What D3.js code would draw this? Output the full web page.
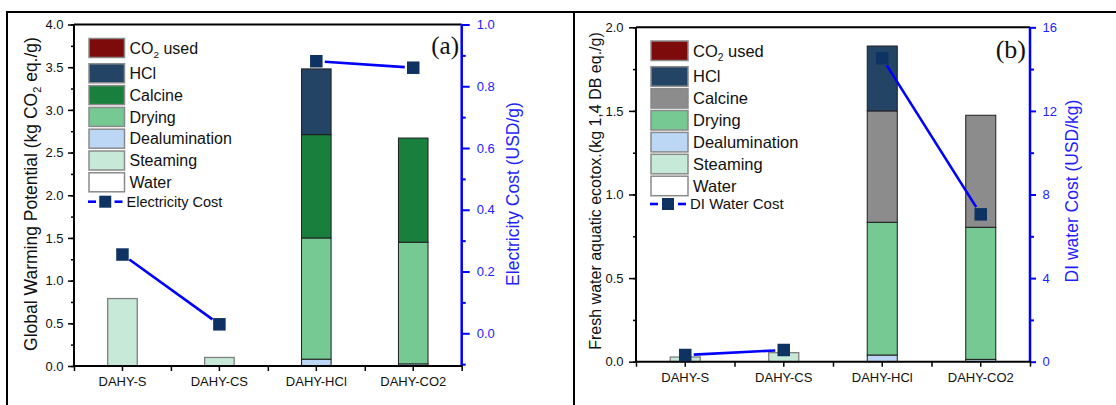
<!DOCTYPE html>
<html>
<head>
<meta charset="utf-8">
<script src="https://cdn.jsdelivr.net/npm/d3@7"></script>
<style>
  html, body { margin: 0; padding: 0; background: #fff; }
  svg { display: block; font-family: "Liberation Sans", Arial, sans-serif; }
</style>
</head>
<body>
<svg id="chart" width="1116" height="405"></svg>
<script>
// ---------------- DATA ----------------
const categories = ["DAHY-S", "DAHY-CS", "DAHY-HCl", "DAHY-CO2"];
const stages = ["Water", "Steaming", "Dealumination", "Drying", "Calcine", "HCl", "CO2 used"]; // bottom -> top

// Panel (a): Global Warming Potential (kg CO2 eq./g)
const gwpWater         = [0, 0, 0, 0];
const gwpSteaming      = [0.79, 0.10, 0, 0];
const gwpDealumination = [0, 0, 0.08, 0.025];
const gwpDrying        = [0, 0, 1.42, 1.425];
const gwpCalcine       = [0, 0, 1.21, 1.22];
const gwpHCl           = [0, 0, 0.77, 0];
const gwpCO2used       = [0, 0, 0, 0];
const electricityCost  = [0.255, 0.029, 0.881, 0.86]; // USD/g

// Panel (b): Fresh water aquatic ecotox. (kg 1,4 DB eq./g)
const ecoWater         = [0, 0, 0, 0];
const ecoSteaming      = [0.028, 0.054, 0, 0];
const ecoDealumination = [0, 0, 0.04, 0.014];
const ecoDrying        = [0, 0, 0.794, 0.79];
const ecoCalcine       = [0, 0, 0.666, 0.67];
const ecoHCl           = [0, 0, 0.388, 0];
const ecoCO2used       = [0, 0, 0, 0];
const diWaterCost      = [0.32, 0.56, 14.52, 7.05]; // USD/kg

// which consecutive points are joined by the cost line
const costSegments = [[0, 1], [2, 3]];

// tick values
const gwpTicks   = [0, 0.5, 1.0, 1.5, 2.0, 2.5, 3.0, 3.5, 4.0];
const elecTicks  = [0, 0.2, 0.4, 0.6, 0.8, 1.0];
const ecoTicks   = [0, 0.5, 1.0, 1.5, 2.0];
const waterTicks = [0, 4, 8, 12, 16];

// ---------------- STYLE ----------------
const colorsA = {
  "Water": "#ffffff", "Steaming": "#c6ead7", "Dealumination": "#bcd7f5",
  "Drying": "#76c993", "Calcine": "#18803c", "HCl": "#244466", "CO2 used": "#7d0b0b"
};
const colorsB = Object.assign({}, colorsA, { "Calcine": "#8c8c8c" });
const BLUE = "#0000ff";
const MARK = "#0e3262";

const svg = d3.select("#chart");

// panel frames
svg.append("rect").attr("x", 7).attr("y", 12).attr("width", 567).attr("height", 420)
  .attr("fill", "none").attr("stroke", "#000").attr("stroke-width", 2);
svg.append("rect").attr("x", 574).attr("y", 12).attr("width", 560).attr("height", 420)
  .attr("fill", "none").attr("stroke", "#000").attr("stroke-width", 2);

function drawPanel(cfg) {
  const g = svg.append("g");
  const x = d3.scaleBand().domain(categories).range([cfg.x0, cfg.x1]).padding(0);
  const xi = d3.scaleLinear().domain([0, categories.length]).range([cfg.x0, cfg.x1]);
  const y = d3.scaleLinear().domain(cfg.yDomain).range([cfg.yB, cfg.yT]);
  const y2 = d3.scaleLinear().domain(cfg.y2Domain).range([cfg.yB, cfg.yT]);

  // stacked bars
  const rows = categories.map((c, i) => {
    const o = { cat: c };
    stages.forEach(s => o[s] = cfg.series[s][i]);
    return o;
  });
  const stacked = d3.stack().keys(stages)(rows);
  const bw = x.bandwidth() * 0.305;
  stacked.forEach(layer => {
    const light = (layer.key === "Steaming" || layer.key === "Water");
    g.selectAll(null).data(layer.filter(d => d[1] - d[0] > 0)).enter().append("rect")
      .attr("x", d => x(d.data.cat) + x.bandwidth() / 2 - bw / 2)
      .attr("width", bw)
      .attr("y", d => y(d[1]))
      .attr("height", d => y(d[0]) - y(d[1]))
      .attr("fill", cfg.colors[layer.key])
      .attr("stroke", light ? "#808080" : "#1e1e1e")
      .attr("stroke-width", light ? 1.3 : 1);
  });

  // top frame line
  g.append("line").attr("x1", cfg.x0).attr("x2", cfg.x1).attr("y1", cfg.yT).attr("y2", cfg.yT)
    .attr("stroke", "#000").attr("stroke-width", 2);

  // left axis
  const minorL = d3.range(cfg.yDomain[0], cfg.yDomain[1] + 1e-9, cfg.yMinorStep);
  g.append("g").attr("transform", `translate(${cfg.x0},0)`)
    .call(d3.axisLeft(y).tickValues(minorL).tickSize(3).tickFormat(""))
    .call(a => { a.select(".domain").remove(); a.selectAll("line").attr("stroke-width", 1.5); });
  g.append("g").attr("transform", `translate(${cfg.x0},0)`)
    .call(d3.axisLeft(y).tickValues(cfg.yTicks).tickSize(cfg.lTick).tickPadding(cfg.lPad).tickFormat(d3.format(".1f")))
    .call(a => {
      a.select(".domain").attr("stroke-width", 2).attr("d", `M0,${cfg.yB}V${cfg.yT}`);
      a.selectAll("line").attr("stroke-width", 1.5);
      a.selectAll("text").attr("font-size", 13).attr("fill", "#111").attr("font-family", "Liberation Sans, Arial, sans-serif");
    });

  // right axis
  const minorR = cfg.y2Minor;
  g.append("g").attr("transform", `translate(${cfg.x1},0)`)
    .call(d3.axisRight(y2).tickValues(minorR).tickSize(cfg.rMinor).tickFormat(""))
    .call(a => { a.select(".domain").remove(); a.selectAll("line").attr("stroke", BLUE).attr("stroke-width", 2); });
  g.append("g").attr("transform", `translate(${cfg.x1},0)`)
    .call(d3.axisRight(y2).tickValues(cfg.y2Ticks).tickSize(cfg.rTick).tickPadding(cfg.rPad).tickFormat(cfg.y2Format))
    .call(a => {
      a.select(".domain").attr("stroke", BLUE).attr("stroke-width", 2.5).attr("d", `M0,${cfg.yB}V${cfg.yT}`);
      a.selectAll("line").attr("stroke", BLUE).attr("stroke-width", 2);
      a.selectAll("text").attr("font-size", 13).attr("fill", "#2222ff").attr("font-family", "Liberation Sans, Arial, sans-serif");
    });

  // bottom axis: boundary ticks + category ticks
  g.append("g").attr("transform", `translate(0,${cfg.yB})`)
    .call(d3.axisBottom(xi).tickValues(d3.range(0, categories.length + 1)).tickSize(5).tickFormat(""))
    .call(a => { a.select(".domain").remove(); a.selectAll("line").attr("stroke-width", 1.5); });
  g.append("g").attr("transform", `translate(0,${cfg.yB})`)
    .call(d3.axisBottom(x).tickSize(5).tickPadding(6).tickSizeOuter(0))
    .call(a => {
      a.select(".domain").attr("stroke-width", 2).attr("d", `M${cfg.x0 - 1},0H${cfg.x1 + 1}`);
      a.selectAll("line").attr("stroke-width", 1.5);
      a.selectAll("text").attr("font-size", 13).attr("fill", "#111").attr("font-family", "Liberation Sans, Arial, sans-serif");
    });

  // cost line (with gaps around markers)
  const pts = cfg.cost.map((v, i) => [x(categories[i]) + x.bandwidth() / 2, y2(v)]);
  const gap = 8.5;
  costSegments.forEach(([a, b]) => {
    const [xa, ya] = pts[a], [xb, yb] = pts[b];
    const L = Math.hypot(xb - xa, yb - ya), ux = (xb - xa) / L, uy = (yb - ya) / L;
    g.append("path")
      .attr("d", d3.line()([[xa + ux * gap, ya + uy * gap], [xb - ux * gap, yb - uy * gap]]))
      .attr("stroke", BLUE).attr("stroke-width", 2.6).attr("fill", "none");
  });
  const ms = 12.5;
  g.selectAll(null).data(pts).enter().append("rect")
    .attr("x", d => d[0] - ms / 2).attr("y", d => d[1] - ms / 2)
    .attr("width", ms).attr("height", ms).attr("fill", MARK);

  // axis titles
  const lt = g.append("text").attr("transform", `translate(${cfg.lTitleX},${cfg.titleY}) rotate(-90)`)
    .attr("text-anchor", "middle").attr("font-size", cfg.lTitleSize).attr("fill", "#111");
  cfg.lTitle(lt);
  g.append("text").attr("transform", `translate(${cfg.rTitleX},${cfg.titleY}) rotate(-90)`)
    .attr("text-anchor", "middle").attr("font-size", 17.5).attr("fill", "#1f1fff").text(cfg.rTitle);

  // panel letter
  g.append("text").attr("x", cfg.letterX).attr("y", cfg.letterY).attr("text-anchor", "end")
    .attr("font-family", "Liberation Serif, Times New Roman, serif").attr("font-size", cfg.letterSize)
    .attr("fill", "#111").text(cfg.letter);

  // legend
  const legOrder = ["CO2 used", "HCl", "Calcine", "Drying", "Dealumination", "Steaming", "Water"];
  legOrder.forEach((s, i) => {
    const top = cfg.legTop + (i === 0 ? 0 : cfg.legFirstGap + (i - 1) * cfg.legStep);
    g.append("rect").attr("x", cfg.legX).attr("y", top).attr("width", cfg.swW).attr("height", cfg.swH)
      .attr("fill", cfg.colors[s]).attr("stroke", "#8a8a8a").attr("stroke-width", 1.5);
    const t = g.append("text").attr("x", cfg.legX + cfg.swW + 5).attr("y", top + cfg.swH / 2 + cfg.legFont * 0.36)
      .attr("font-size", cfg.legFont).attr("fill", "#111");
    if (s === "CO2 used") {
      t.append("tspan").text("CO");
      t.append("tspan").attr("font-size", cfg.legFont * 0.62).attr("dy", 4).text("2");
      t.append("tspan").attr("dy", -4).text(" used");
    } else t.text(s);
  });
  const ly = cfg.costLegY;
  const lx0 = cfg.legX - 1, lx1 = cfg.legX + cfg.swW - 2;
  g.append("line").attr("x1", lx0).attr("x2", lx0 + 8).attr("y1", ly).attr("y2", ly).attr("stroke", BLUE).attr("stroke-width", 2.6);
  g.append("line").attr("x1", lx1 - 8).attr("x2", lx1).attr("y1", ly).attr("y2", ly).attr("stroke", BLUE).attr("stroke-width", 2.6);
  g.append("rect").attr("x", (lx0 + lx1) / 2 - 6).attr("y", ly - 6).attr("width", 12).attr("height", 12).attr("fill", MARK);
  g.append("text").attr("x", lx1 + 4).attr("y", ly + cfg.costLegFont * 0.36).attr("font-size", cfg.costLegFont)
    .attr("fill", "#111").text(cfg.costLabel);
}

drawPanel({
  x0: 74, x1: 461.7, yT: 24.5, yB: 366,
  yDomain: [0, 4], yTicks: gwpTicks, yMinorStep: 0.25,
  y2Domain: [-0.106, 1.0], y2Ticks: elecTicks, y2Minor: [-0.1, 0.1, 0.3, 0.5, 0.7, 0.9],
  y2Format: d3.format(".1f"),
  lTick: 6, lPad: 4.5, rTick: 8, rMinor: 4, rPad: 7,
  series: { "Water": gwpWater, "Steaming": gwpSteaming, "Dealumination": gwpDealumination, "Drying": gwpDrying,
            "Calcine": gwpCalcine, "HCl": gwpHCl, "CO2 used": gwpCO2used },
  colors: colorsA,
  cost: electricityCost,
  lTitleX: 37, titleY: 194, lTitleSize: 17.5,
  lTitle: t => {
    t.append("tspan").text("Global Warming Potential (kg CO");
    t.append("tspan").attr("font-size", 11).attr("dy", 4).text("2");
    t.append("tspan").attr("dy", -4).text(" eq./g)");
  },
  rTitleX: 519, rTitle: "Electricity Cost (USD/g)",
  letter: "(a)", letterX: 459, letterY: 54, letterSize: 25,
  legX: 89, legTop: 38.5, legFirstGap: 25.3, legStep: 21.8, swW: 35.5, swH: 19, legFont: 16,
  costLegY: 201.7, costLegFont: 14.5, costLabel: "Electricity Cost"
});

drawPanel({
  x0: 636, x1: 1030, yT: 27.3, yB: 361.7,
  yDomain: [0, 2], yTicks: ecoTicks, yMinorStep: 0.25,
  y2Domain: [0, 16], y2Ticks: waterTicks, y2Minor: [2, 6, 10, 14],
  y2Format: d3.format("d"),
  lTick: 7, lPad: 5.5, rTick: 6, rMinor: 4, rPad: 6.5,
  series: { "Water": ecoWater, "Steaming": ecoSteaming, "Dealumination": ecoDealumination, "Drying": ecoDrying,
            "Calcine": ecoCalcine, "HCl": ecoHCl, "CO2 used": ecoCO2used },
  colors: colorsB,
  cost: diWaterCost,
  lTitleX: 601, titleY: 191, lTitleSize: 16,
  lTitle: t => t.text("Fresh water aquatic ecotox.(kg 1,4 DB eq./g)"),
  rTitleX: 1078, rTitle: "DI water Cost (USD/kg)",
  letter: "(b)", letterX: 1026, letterY: 58, letterSize: 26,
  legX: 651, legTop: 41, legFirstGap: 25.7, legStep: 21.9, swW: 37, swH: 19.5, legFont: 16.5,
  costLegY: 204, costLegFont: 15, costLabel: "DI Water Cost"
});
</script>
</body>
</html>
